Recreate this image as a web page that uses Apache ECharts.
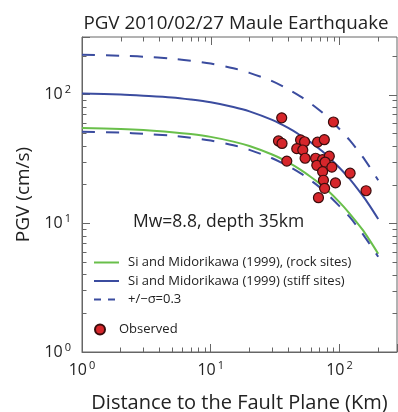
<!DOCTYPE html>
<html>
<head>
<meta charset="utf-8">
<script src="https://cdn.jsdelivr.net/npm/echarts@6/dist/echarts.min.js"></script>
<style>
  html, body { margin: 0; padding: 0; background: #fff; }
  #chart { width: 398px; height: 412px; }
</style>
</head>
<body>
<div id="chart"></div>
<script>
// Si & Midorikawa (1999) attenuation curves, PGV (cm/s) vs distance (km)
const distances  = [1, 2, 3, 5, 7, 10, 15, 20, 30, 40, 50, 60, 70, 80, 100, 120, 150, 170, 200];
const stiffSites = [102, 100, 98, 95, 91.5, 87, 80, 74, 63.5, 55, 48, 42.5, 37.7, 33.7, 27, 22.1, 16.6, 13.9, 10.8];
const upperSigma = [204, 200, 197, 190, 183, 174, 160, 147.5, 127, 110, 96.5, 85, 75.5, 67.3, 54, 44.2, 33.3, 27.8, 21.6];
const rockSites  = [55, 54, 53, 51, 49.3, 46.9, 43.1, 39.8, 34.2, 29.7, 26, 22.9, 20.4, 18.2, 14.6, 11.9, 9.0, 7.5, 5.8];
const lowerSigma = [51.5, 50.6, 49.6, 47.9, 46.2, 43.9, 40.4, 37.2, 32, 27.8, 24.4, 21.5, 19.1, 17, 13.6, 11.2, 8.4, 7.0, 5.5];

// Recorded stations
const observedDist = [35.6, 89.8, 33.6, 35.8, 49.9, 53.6, 67.6, 76.3, 46.6, 51.9, 54.1, 39.0, 65.3, 74.0, 83.4, 66.7, 77.4, 87.3, 74.0, 121, 75.1, 93.1, 76.7, 161, 68.7];
const observedPgv  = [65.9, 61.2, 43.6, 41.7, 44.4, 43.0, 42.7, 44.6, 38.0, 37.1, 32.0, 30.4, 32.0, 31.2, 33.2, 28.2, 29.9, 27.3, 25.2, 24.5, 21.6, 20.6, 18.7, 17.9, 15.8];

// Axis range and tick positions (both axes share the same log range)
const axisMin = 1;
const axisMax = 280;
const majorTicks = [1, 10, 100];
const minorTicks = [2, 3, 4, 5, 6, 7, 8, 9, 20, 30, 40, 50, 60, 70, 80, 90, 200];

const chartTitle = 'PGV 2010/02/27 Maule Earthquake';
const eventNote  = 'Mw=8.8, depth 35km';
const nameRock  = 'Si and Midorikawa (1999), (rock sites)';
const nameStiff = 'Si and Midorikawa (1999) (stiff sites)';
const nameSigma = '+/\u2212\u03c3=0.3';
const nameObs   = 'Observed';

const FONT = 'Open Sans';
const GREEN = '#69bf4a';
const BLUE = '#3b4c9f';
const AXIS = '#666';
const TEXT = '#222';

const pairs = (xs, ys) => xs.map((x, i) => [x, ys[i]]);
const logMinor = minorTicks.map(v => Math.log10(v));

// Tick rows for the top and right frame edges:
// [x value, y value, 0 = x tick / 1 = y tick, 1 = major / 0 = minor]
const tickRows = [];
[[majorTicks, 1], [minorTicks, 0]].forEach(([list, major]) => {
  list.forEach(v => {
    tickRows.push([v, axisMin, 0, major]);
    tickRows.push([axisMin, v, 1, major]);
  });
});

function renderFrameTicks(params, api) {
  const cs = params.coordSys;
  const isY = api.value(2) === 1;
  const len = api.value(3) === 1 ? 8 : 4.5;
  if (!isY) {
    const px = Math.round(api.coord([api.value(0), axisMin])[0]) + 0.5;
    return { type: 'line', shape: { x1: px, y1: cs.y, x2: px, y2: cs.y + len },
      style: { stroke: AXIS, lineWidth: 1 } };
  }
  const py = Math.round(api.coord([axisMin, api.value(1)])[1]) + 0.5;
  const right = cs.x + cs.width;
  return { type: 'line', shape: { x1: right, y1: py, x2: right - len, y2: py },
    style: { stroke: AXIS, lineWidth: 1 } };
}

const powLabel = v => {
  const e = Math.log10(v);
  return Math.abs(e - Math.round(e)) < 1e-6 ? '{b|10}{e|' + Math.round(e) + '}' : '';
};
const labelRich = {
  b: { fontFamily: FONT, fontSize: 16, color: TEXT, lineHeight: 20 },
  e: { fontFamily: FONT, fontSize: 11, color: TEXT, verticalAlign: 'top', padding: [0, 0, 0, 2], lineHeight: 12 }
};

function logAxis(isX) {
  return {
    type: 'log', logBase: 10, min: axisMin, max: axisMax,
    position: isX ? 'bottom' : 'left',
    axisLine: { show: true, lineStyle: { color: AXIS, width: 1 } },
    axisTick: { show: true, inside: true, length: 8, lineStyle: { color: AXIS, width: 1 } },
    axisLabel: { show: true, formatter: powLabel, rich: labelRich, margin: isX ? 8 : 11 },
    splitLine: { show: false },
    nameLocation: 'middle',
    nameTextStyle: { fontFamily: FONT, fontSize: isX ? 20 : 19, color: TEXT }
  };
}
function minorAxis(isX) {
  return {
    type: 'value', min: 0, max: Math.log10(axisMax),
    position: isX ? 'bottom' : 'left',
    axisLine: { show: false },
    axisTick: { show: true, inside: true, length: 4.5, customValues: logMinor, lineStyle: { color: AXIS, width: 1 } },
    axisLabel: { show: false },
    splitLine: { show: false }
  };
}

const xMain = logAxis(true);
xMain.name = 'Distance to the Fault Plane (Km)';
xMain.nameGap = 41;

const yMain = logAxis(false);
yMain.name = 'PGV (cm/s)';
yMain.nameGap = 49;
yMain.nameRotate = 90;

const lineSeries = (name, ys, color, dashed) => ({
  name: name, type: 'line', xAxisIndex: 0, yAxisIndex: 0,
  data: pairs(distances, ys), symbol: 'none', smooth: 0.3,
  lineStyle: { color: color, width: 2, type: dashed ? [13, 11] : 'solid' },
  itemStyle: { color: color }, silent: true
});

const legendText = n => '{t|' + n + '}';

const option = {
  animation: false,
  grid: {
    left: 82, right: 1, top: 37, bottom: 60,
    containLabel: false, outerBoundsMode: 'none',
    show: true, borderColor: AXIS, borderWidth: 1, backgroundColor: 'transparent'
  },
  // Heading and event note
  graphic: [
    { type: 'text', x: 236, y: 14, silent: true,
      style: { text: chartTitle, fontFamily: FONT, fontSize: 18.8, fill: TEXT, align: 'center', verticalAlign: 'top' } },
    { type: 'text', x: 133, y: 213, silent: true,
      style: { text: eventNote, fontFamily: FONT, fontSize: 17.5, fill: TEXT, align: 'left', verticalAlign: 'top' } }
  ],
  legend: [
    {
      orient: 'vertical', left: 93, top: 256, itemWidth: 25, itemHeight: 14, itemGap: 5.5,
      padding: 0, selectedMode: false,
      itemStyle: { color: 'rgba(0,0,0,0)', borderWidth: 0, opacity: 0 },
      formatter: legendText,
      textStyle: { fontFamily: FONT, fontSize: 13, color: TEXT,
        rich: { t: { fontFamily: FONT, fontSize: 13, color: TEXT, padding: [0, 0, 0, 4] } } },
      data: [
        { name: nameRock },
        { name: nameStiff },
        { name: nameSigma, lineStyle: { type: [7, 7], width: 2 } }
      ]
    },
    {
      orient: 'vertical', left: 94, top: 323, itemWidth: 28, itemHeight: 10,
      padding: 0, selectedMode: false,
      textStyle: { fontFamily: FONT, fontSize: 13, color: TEXT },
      data: [{ name: nameObs }]
    }
  ],
  xAxis: [xMain, minorAxis(true)],
  yAxis: [yMain, minorAxis(false)],
  series: [
    {
      type: 'custom', name: 'frame ticks', xAxisIndex: 0, yAxisIndex: 0,
      silent: true, clip: false, zlevel: 1,
      renderItem: renderFrameTicks, data: tickRows
    },
    lineSeries(nameRock, rockSites, GREEN, false),
    lineSeries(nameStiff, stiffSites, BLUE, false),
    lineSeries(nameSigma, upperSigma, BLUE, true),
    lineSeries(nameSigma, lowerSigma, BLUE, true),
    {
      name: nameObs, type: 'scatter', xAxisIndex: 0, yAxisIndex: 0,
      data: pairs(observedDist, observedPgv), symbol: 'circle', symbolSize: 10,
      itemStyle: { color: '#d6262b', borderColor: '#3a0c0c', borderWidth: 1.2, opacity: 1 },
      z: 5
    }
  ]
};

const chart = echarts.init(document.getElementById('chart'), null, { renderer: 'canvas' });
chart.setOption(option);
</script>
</body>
</html>
